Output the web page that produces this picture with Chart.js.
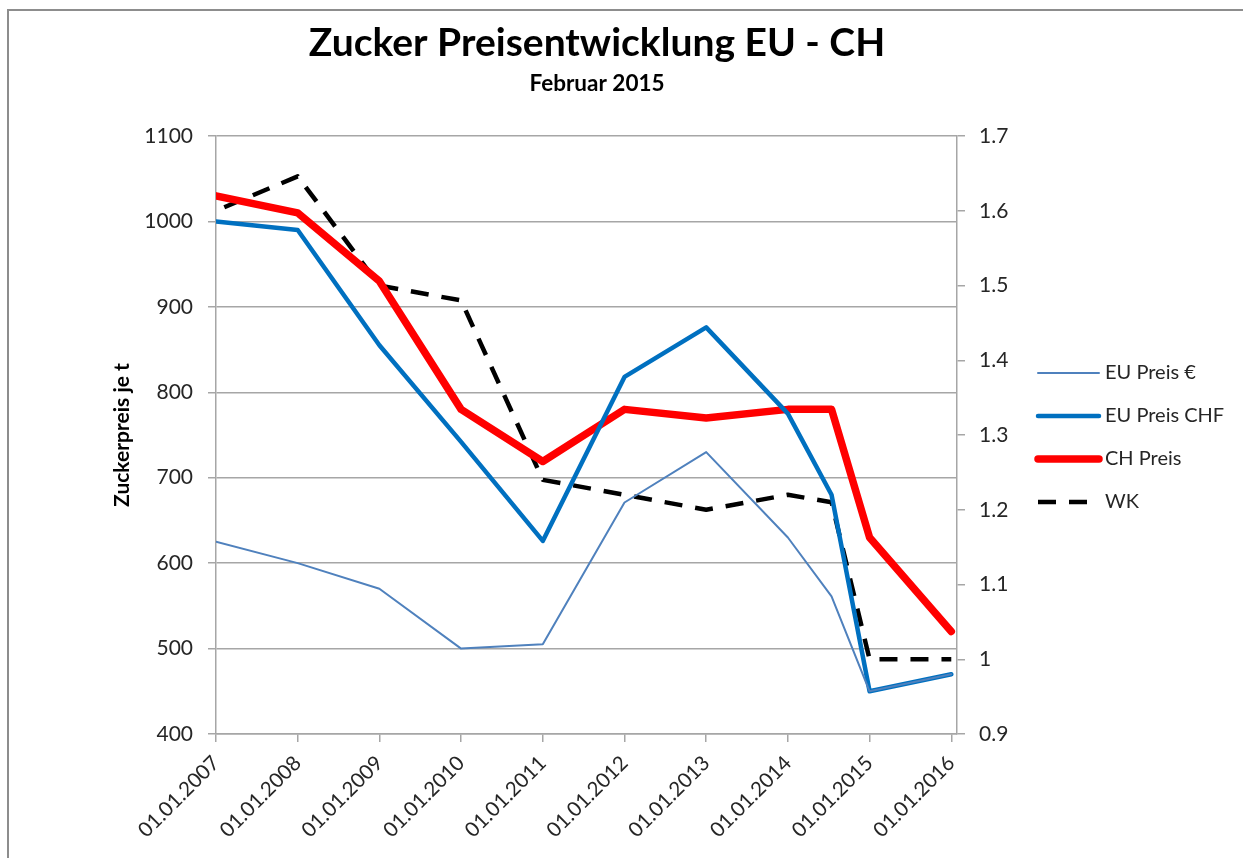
<!DOCTYPE html>
<html>
<head>
<meta charset="utf-8">
<script src="https://cdn.jsdelivr.net/npm/chart.js@4.4.1/dist/chart.umd.min.js"></script>
<style>
    body{ margin:0; background:#fff; }
    #grafik{ position:absolute; left:0; top:0; }
    /* grauer Rahmen wie im Excel-Diagramm */
    #rahmen{ position:absolute; left:7px; top:9px; width:1300px; height:900px;
             border-left:2px solid #8d8d8d; border-top:2px solid #8d8d8d; pointer-events:none; }
</style>
</head>
<body>
<canvas id="grafik" width="1243" height="858"></canvas>
<div id="rahmen"></div>
<script>

//*************  Daten  ****************/
// Zeitpunkte der Messwerte
const datum = ["01.01.2007", "01.01.2008", "01.01.2009", "01.01.2010", "01.01.2011", "01.01.2012",
               "01.01.2013", "01.01.2014", "15.07.2014", "01.01.2015", "01.01.2016"]

const euPreisEuro = [625, 600, 570, 500, 505, 671, 730, 630, 561, 450, 470]
const euPreisChf  = [1000, 990, 855, 742, 626, 818, 876, 775, 680, 450, 470]
const chPreis     = [1030, 1010, 930, 780, 719, 780, 770, 780, 780, 630, 520]
const wk          = [1.60, 1.646, 1.50, 1.48, 1.24, 1.22, 1.20, 1.22, 1.21, 1.0, 1.0]

// Achsenbeschriftung
const xTicks = ["01.01.2007", "01.01.2008", "01.01.2009", "01.01.2010", "01.01.2011",
                "01.01.2012", "01.01.2013", "01.01.2014", "01.01.2015", "01.01.2016"]
const yTicksLinks  = [400, 500, 600, 700, 800, 900, 1000, 1100]
const yTicksRechts = [0.9, 1, 1.1, 1.2, 1.3, 1.4, 1.5, 1.6, 1.7]

//*************  Hilfsfunktionen  ****************/
// "dd.mm.yyyy" -> Jahr als Dezimalzahl
function dezimalJahr(s){
    let [t, m, j] = s.split(".").map(Number)
    let start = Date.UTC(j, 0, 1)
    let ende = Date.UTC(j + 1, 0, 1)
    return j + (Date.UTC(j, m - 1, t) - start) / (ende - start)
}

function punkte(werte){
    return werte.map((v, i) => ({x: dezimalJahr(datum[i]), y: v}))
}

const grau = "#a6a6a6"
const textFarbe = "#262626"

Chart.defaults.font.family = "Lato, 'Open Sans', sans-serif"

// Legende rechts (wie Excel: Linienmuster + Text)
const legendePlugin = {
    id: "legendeExcel",
    afterDraw(chart){
        const ctx = chart.ctx
        const x0 = 1038, y0 = 373, schritt = 43
        ctx.save()
        chart.data.datasets.forEach((ds, i) => {
            let y = y0 + i * schritt
            let dash = ds.borderDash || []
            ctx.beginPath()
            ctx.strokeStyle = ds.borderColor
            ctx.lineWidth = ds.borderWidth
            ctx.lineCap = dash.length ? "butt" : "round"
            ctx.setLineDash(dash)
            ctx.lineDashOffset = 0
            ctx.moveTo(x0, y)
            ctx.lineTo(dash.length ? x0 + 49 : 1099, y)
            ctx.stroke()
            ctx.setLineDash([])
            ctx.fillStyle = textFarbe
            ctx.font = "20px Lato, 'Open Sans', sans-serif"
            ctx.textBaseline = "middle"
            ctx.textAlign = "left"
            ctx.fillText(ds.label, 1105, y)
        })
        ctx.restore()
    }
}

//*************  Diagramm  ****************/
new Chart(document.getElementById("grafik"), {
    type: "line",
    data: {
        datasets: [
            {
                label: "EU Preis €",
                data: punkte(euPreisEuro),
                borderColor: "#4f81bd",
                borderWidth: 2,
                borderCapStyle: "round",
                yAxisID: "y"
            },
            {
                label: "EU Preis CHF",
                data: punkte(euPreisChf),
                borderColor: "#0070c0",
                borderWidth: 4.5,
                borderCapStyle: "round",
                yAxisID: "y"
            },
            {
                label: "CH Preis",
                data: punkte(chPreis),
                borderColor: "#ff0000",
                borderWidth: 7.5,
                borderCapStyle: "round",
                yAxisID: "y"
            },
            {
                label: "WK",
                data: punkte(wk),
                borderColor: "#000000",
                borderWidth: 4.5,
                borderDash: [18, 13],
                borderDashOffset: 22,
                yAxisID: "y1"
            }
        ]
    },
    plugins: [legendePlugin],
    options: {
        responsive: false,
        animation: false,
        devicePixelRatio: 1,
        layout: { padding: { left: 8, right: 57, top: 0, bottom: 0 } },
        elements: {
            point: { radius: 0 },
            line: { tension: 0, borderJoinStyle: "round", fill: false }
        },
        plugins: {
            title: {
                display: true,
                text: "Zucker Preisentwicklung EU - CH",
                color: "#000",
                font: { size: 39, weight: "bold" },
                padding: { top: 20, bottom: 0 }
            },
            subtitle: {
                display: true,
                text: "Februar 2015",
                color: "#000",
                font: { size: 22.5, weight: "bold" },
                padding: { top: 3.7, bottom: 38.5 }
            },
            legend: { display: false },
            tooltip: { enabled: false }
        },
        scales: {
            x: {
                type: "linear",
                min: 2007,
                max: 2016.07,
                afterBuildTicks: s => { s.ticks = xTicks.map(d => ({ value: dezimalJahr(d) })) },
                afterFit: s => { s.height = 124 },
                ticks: {
                    autoSkip: false,
                    minRotation: 45,
                    maxRotation: 45,
                    color: textFarbe,
                    font: { size: 20.5 },
                    padding: 9,
                    callback: (v, i) => xTicks[i]
                },
                grid: { drawOnChartArea: false, color: grau, lineWidth: 1.5, tickLength: 8 },
                border: { color: grau, width: 1.5 }
            },
            y: {
                position: "left",
                min: 400,
                max: 1100,
                afterBuildTicks: s => { s.ticks = yTicksLinks.map(v => ({ value: v })) },
                afterFit: s => { s.width = 208 },
                ticks: { color: textFarbe, font: { size: 21 }, padding: 15, callback: v => String(v) },
                grid: { color: grau, lineWidth: 1.5, tickLength: 8 },
                border: { color: grau, width: 1.5 },
                title: {
                    display: true,
                    text: "Zuckerpreis je t",
                    color: "#000",
                    font: { size: 21, weight: "bold" },
                    padding: { top: 102, bottom: 0 }
                }
            },
            y1: {
                position: "right",
                min: 0.9,
                max: 1.7,
                afterBuildTicks: s => { s.ticks = yTicksRechts.map(v => ({ value: v })) },
                afterFit: s => { s.width = 229 },
                ticks: {
                    color: textFarbe,
                    font: { size: 21 },
                    padding: 14,
                    callback: v => String(Math.round(v * 10) / 10)
                },
                grid: { drawOnChartArea: false, color: grau, lineWidth: 1.5, tickLength: 8 },
                border: { color: grau, width: 1.5 }
            }
        }
    }
})

</script>
</body>
</html>
